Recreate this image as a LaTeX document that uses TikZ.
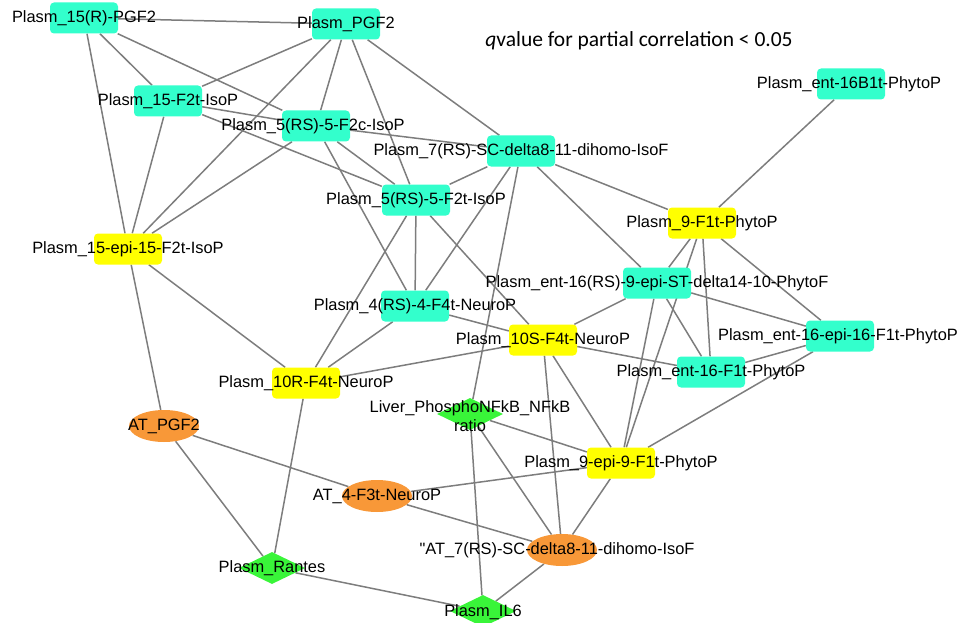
\documentclass[tikz,border=0pt]{standalone}
\usepackage{fontspec}
\setmainfont{Liberation Sans}
\newfontfamily\titlefont{Carlito}
\usetikzlibrary{shapes.geometric,backgrounds}
\definecolor{nodecyan}{RGB}{51,255,204}
\definecolor{nodeyellow}{RGB}{255,255,0}
\definecolor{nodegreen}{RGB}{57,245,57}
\definecolor{nodeorange}{RGB}{248,152,56}
\definecolor{edgegray}{RGB}{125,125,125}
\newcommand{\lblfont}{\fontsize{16.4}{19}\selectfont}
\tikzset{
  cyanbox/.style={rectangle, rounded corners=4pt, fill=nodecyan, minimum width=68pt, minimum height=31pt, inner sep=0pt},
  yellowbox/.style={rectangle, rounded corners=4pt, fill=nodeyellow, minimum width=68pt, minimum height=31pt, inner sep=0pt},
  orangeell/.style={ellipse, fill=nodeorange, minimum width=70pt, minimum height=32pt, inner sep=0pt},
  greendia/.style={diamond, fill=nodegreen, minimum width=66pt, minimum height=32pt, inner sep=0pt},
  lbl/.style={font=\lblfont, inner sep=0pt, text=black},
  link/.style={draw=edgegray, line width=1.5pt},
}
\begin{document}
\begin{tikzpicture}[x=1pt,y=-1pt]
\useasboundingbox (0,0) rectangle (958,623);
% shapes
\node[cyanbox] (P15R) at (84,18) {};
\node[cyanbox] (PPGF2) at (346,24) {};
\node[cyanbox] (P15F2t) at (168,101) {};
\node[cyanbox] (P5F2c) at (316,126) {};
\node[cyanbox] (P7SC) at (521,151) {};
\node[cyanbox] (P5F2t) at (416,200) {};
\node[cyanbox] (PentB1) at (851,84) {};
\node[yellowbox] (P15epi) at (128,249) {};
\node[yellowbox] (P9F1t) at (702,223) {};
\node[cyanbox] (PentRS) at (657,283) {};
\node[cyanbox] (P4F4t) at (415,306) {};
\node[yellowbox] (P10S) at (543,340) {};
\node[cyanbox] (PentEpi) at (840,336) {};
\node[cyanbox] (PentF1t) at (711,372) {};
\node[yellowbox] (P10R) at (306,383) {};
\node[greendia] (Liver) at (470,414) {};
\node[yellowbox] (P9epi) at (621,463) {};
\node[orangeell] (ATPGF2) at (164,426) {};
\node[orangeell] (AT4F3t) at (377,496) {};
\node[orangeell] (AT7) at (562,550) {};
\node[greendia] (Rantes) at (272,568) {};
\node[greendia] (IL6) at (483,611) {};
% labels
\node[lbl] (P15R-l) at (P15R.center) {Plasm\_15(R)-PGF2};
\node[lbl] (PPGF2-l) at (PPGF2.center) {Plasm\_PGF2};
\node[lbl] (P15F2t-l) at (P15F2t.center) {Plasm\_15-F2t-IsoP};
\node[lbl] (P5F2c-l) at ([xshift=-3pt]P5F2c.center) {Plasm\_5(RS)-5-F2c-IsoP};
\node[lbl] (P7SC-l) at (P7SC.center) {Plasm\_7(RS)-SC-delta8-11-dihomo-IsoF};
\node[lbl] (P5F2t-l) at (P5F2t.center) {Plasm\_5(RS)-5-F2t-IsoP};
\node[lbl] (PentB1-l) at ([xshift=-2pt]PentB1.center) {Plasm\_ent-16B1t-PhytoP};
\node[lbl] (P15epi-l) at (P15epi.center) {Plasm\_15-epi-15-F2t-IsoP};
\node[lbl] (P9F1t-l) at (P9F1t.center) {Plasm\_9-F1t-PhytoP};
\node[lbl] (PentRS-l) at (PentRS.center) {Plasm\_ent-16(RS)-9-epi-ST-delta14-10-PhytoF};
\node[lbl] (P4F4t-l) at (P4F4t.center) {Plasm\_4(RS)-4-F4t-NeuroP};
\node[lbl] (P10S-l) at (P10S.center) {Plasm\_10S-F4t-NeuroP};
\node[lbl] (PentEpi-l) at ([xshift=-2pt]PentEpi.center) {Plasm\_ent-16-epi-16-F1t-PhytoP};
\node[lbl] (PentF1t-l) at (PentF1t.center) {Plasm\_ent-16-F1t-PhytoP};
\node[lbl] (P10R-l) at (P10R.center) {Plasm\_10R-F4t-NeuroP};
\node[lbl, align=center] (Liver-l) at ([yshift=-2.5pt]Liver.center) {Liver\_PhosphoNFkB\_NFkB\\ratio};
\node[lbl] (P9epi-l) at (P9epi.center) {Plasm\_9-epi-9-F1t-PhytoP};
\node[lbl] (ATPGF2-l) at (ATPGF2.center) {AT\_PGF2};
\node[lbl] (AT4F3t-l) at (AT4F3t.center) {AT\_4-F3t-NeuroP};
\node[lbl] (AT7-l) at ([xshift=-5pt]AT7.center) {\textquotedbl AT\_7(RS)-SC-delta8-11-dihomo-IsoF};
\node[lbl] (Rantes-l) at (Rantes.center) {Plasm\_Rantes};
\node[lbl] (IL6-l) at ([yshift=-1pt]IL6.center) {Plasm\_IL6};
\node[font=\titlefont\fontsize{21.5}{24}\selectfont, inner sep=0pt] (title) at (639,41) {\textit{q}value for partial correlation < 0.05};
% edges
\begin{scope}[on background layer]
\draw[link] (P15R) -- (PPGF2);
\draw[link] (P15R) -- (P15F2t);
\draw[link] (P15R) -- (P5F2c);
\draw[link] (P15R) -- (P15epi);
\draw[link] (P15F2t) -- (PPGF2);
\draw[link] (P15F2t) -- (P5F2c);
\draw[link] (P15F2t) -- (P5F2t);
\draw[link] (P15F2t) -- (P15epi);
\draw[link] (PPGF2) -- (P15epi);
\draw[link] (P5F2c) -- (P15epi);
\draw[link] (PPGF2) -- (P5F2c);
\draw[link] (PPGF2) -- (P5F2t);
\draw[link] (PPGF2) -- (P7SC);
\draw[link] (P5F2c) -- (P7SC);
\draw[link] (P5F2c) -- (P5F2t);
\draw[link] (P5F2c) -- (P4F4t);
\draw[link] (P7SC) -- (P5F2t);
\draw[link] (P7SC) -- (P4F4t);
\draw[link] (P7SC) -- (Liver);
\draw[link] (P7SC) -- (PentRS);
\draw[link] (P7SC) -- (P9F1t);
\draw[link] (P5F2t) -- (P10R);
\draw[link] (P5F2t) -- (P4F4t);
\draw[link] (P5F2t) -- (P10S);
\draw[link] (P9F1t) -- (PentB1);
\draw[link] (P9F1t) -- (PentRS);
\draw[link] (P9F1t) -- (P9epi);
\draw[link] (P9F1t) -- (PentF1t);
\draw[link] (P9F1t) -- (PentEpi);
\draw[link] (PentRS) -- (P10S);
\draw[link] (PentRS) -- (PentEpi);
\draw[link] (PentRS) -- (PentF1t);
\draw[link] (PentRS) -- (P9epi);
\draw[link] (PentEpi) -- (PentF1t);
\draw[link] (PentEpi) -- (P9epi);
\draw[link] (P10S) -- (PentF1t);
\draw[link] (P4F4t) -- (P10S);
\draw[link] (P4F4t) -- (P10R);
\draw[link] (P10S) -- (P10R);
\draw[link] (P10S) -- (AT7);
\draw[link] (P10S) -- (P9epi);
\draw[link] (P10R) -- (Rantes);
\draw[link] (Liver) -- (P9epi);
\draw[link] (Liver) -- (AT7);
\draw[link] (Liver) -- (IL6);
\draw[link] (P9epi) -- (AT4F3t);
\draw[link] (P9epi) -- (AT7);
\draw[link] (ATPGF2) -- (AT4F3t);
\draw[link] (AT4F3t) -- (AT7);
\draw[link] (ATPGF2) -- (Rantes);
\draw[link] (P15epi) -- (P10R);
\draw[link] (P15epi) -- (ATPGF2);
\draw[link] (Rantes) -- (IL6);
\draw[link] (IL6) -- (AT7);
\end{scope}
\end{tikzpicture}
\end{document}
